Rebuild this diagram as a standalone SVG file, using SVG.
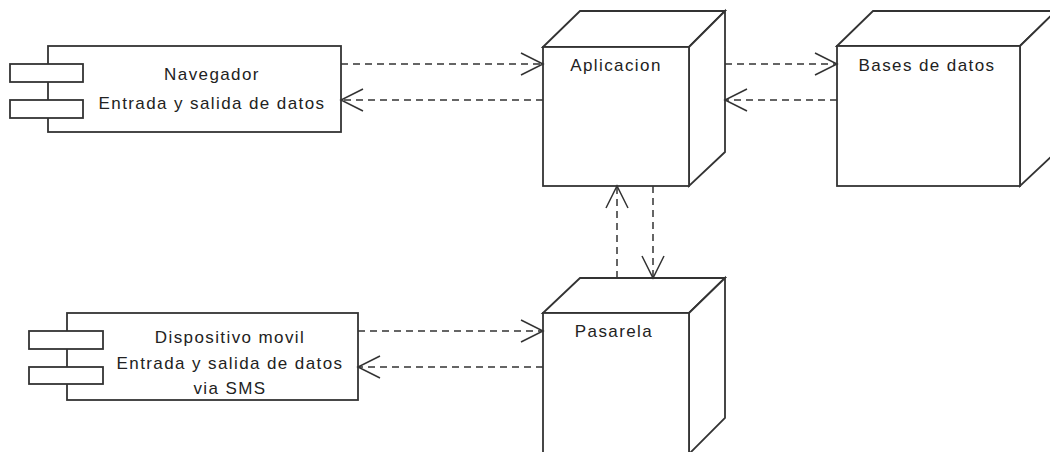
<svg xmlns="http://www.w3.org/2000/svg" width="1050" height="452" viewBox="0 0 1050 452">
  <defs>
    <style>
      .box { fill: #ffffff; stroke: #333333; stroke-width: 1.8; }
      .face { fill: #ffffff; stroke: #333333; stroke-width: 1.8; stroke-linejoin: miter; }
      .lbl { font-family: "Liberation Sans", Arial, sans-serif; font-size: 17px; fill: #222222; letter-spacing: 1.4px; }
      .dep { fill: none; stroke: #333333; stroke-width: 1.5; stroke-dasharray: 7 5; }
      .head { fill: none; stroke: #333333; stroke-width: 1.5; }
    </style>
  </defs>
  <rect width="1050" height="452" fill="#ffffff"/>

  <!-- Component: Navegador -->
  <g id="navegador">
    <rect class="box" x="48" y="46" width="293" height="86"/>
    <rect class="box" x="10" y="64" width="73" height="18"/>
    <rect class="box" x="10" y="100" width="73" height="18"/>
    <text class="lbl" x="212" y="80" text-anchor="middle">Navegador</text>
    <text class="lbl" x="212" y="109" text-anchor="middle">Entrada y salida de datos</text>
  </g>

  <!-- Node: Aplicacion -->
  <g id="aplicacion">
    <path class="face" d="M543,47 L580,11 L725,11 L689,47 Z"/>
    <path class="face" d="M689,47 L725,11 L725,152 L689,186 Z"/>
    <rect class="box" x="543" y="47" width="146" height="139"/>
    <text class="lbl" x="616" y="71" text-anchor="middle">Aplicacion</text>
  </g>

  <!-- Node: Bases de datos -->
  <g id="bases-de-datos">
    <path class="face" d="M837,46 L873,11 L1056,11 L1020,46 Z"/>
    <path class="face" d="M1020,46 L1056,11 L1056,152 L1020,186 Z"/>
    <rect class="box" x="837" y="46" width="183" height="140"/>
    <text class="lbl" x="927" y="71" text-anchor="middle">Bases de datos</text>
  </g>

  <!-- Component: Dispositivo movil -->
  <g id="dispositivo">
    <rect class="box" x="67" y="313" width="291" height="87"/>
    <rect class="box" x="29" y="331" width="74" height="18"/>
    <rect class="box" x="29" y="367" width="74" height="17"/>
    <text class="lbl" x="230" y="343" text-anchor="middle">Dispositivo movil</text>
    <text class="lbl" x="230" y="369" text-anchor="middle">Entrada y salida de datos</text>
    <text class="lbl" x="230" y="394" text-anchor="middle">via SMS</text>
  </g>

  <!-- Node: Pasarela -->
  <g id="pasarela">
    <path class="face" d="M543,313 L580,278 L725,278 L689,313 Z"/>
    <path class="face" d="M689,313 L725,278 L725,418 L689,454 Z"/>
    <rect class="box" x="543" y="313" width="146" height="150"/>
    <text class="lbl" x="614" y="337" text-anchor="middle">Pasarela</text>
  </g>

  <!-- Dependencies -->
  <g id="connectors">
    <!-- Navegador <-> Aplicacion -->
    <line class="dep" x1="341" y1="64" x2="543" y2="64"/>
    <polyline class="head" points="521,53 543,64 521,75"/>
    <line class="dep" x1="543" y1="100" x2="341" y2="100"/>
    <polyline class="head" points="363,89 341,100 363,111"/>

    <!-- Aplicacion <-> Bases de datos -->
    <line class="dep" x1="725" y1="64" x2="837" y2="64"/>
    <polyline class="head" points="815,53 837,64 815,75"/>
    <line class="dep" x1="837" y1="100" x2="725" y2="100"/>
    <polyline class="head" points="747,89 725,100 747,111"/>

    <!-- Pasarela <-> Aplicacion -->
    <line class="dep" x1="617" y1="278" x2="617" y2="186"/>
    <polyline class="head" points="606,208 617,186 628,208"/>
    <line class="dep" x1="653" y1="186" x2="653" y2="278"/>
    <polyline class="head" points="642,256 653,278 664,256"/>

    <!-- Dispositivo movil <-> Pasarela -->
    <line class="dep" x1="358" y1="331" x2="543" y2="331"/>
    <polyline class="head" points="521,320 543,331 521,342"/>
    <line class="dep" x1="543" y1="367" x2="358" y2="367"/>
    <polyline class="head" points="380,356 358,367 380,378"/>
  </g>
</svg>
